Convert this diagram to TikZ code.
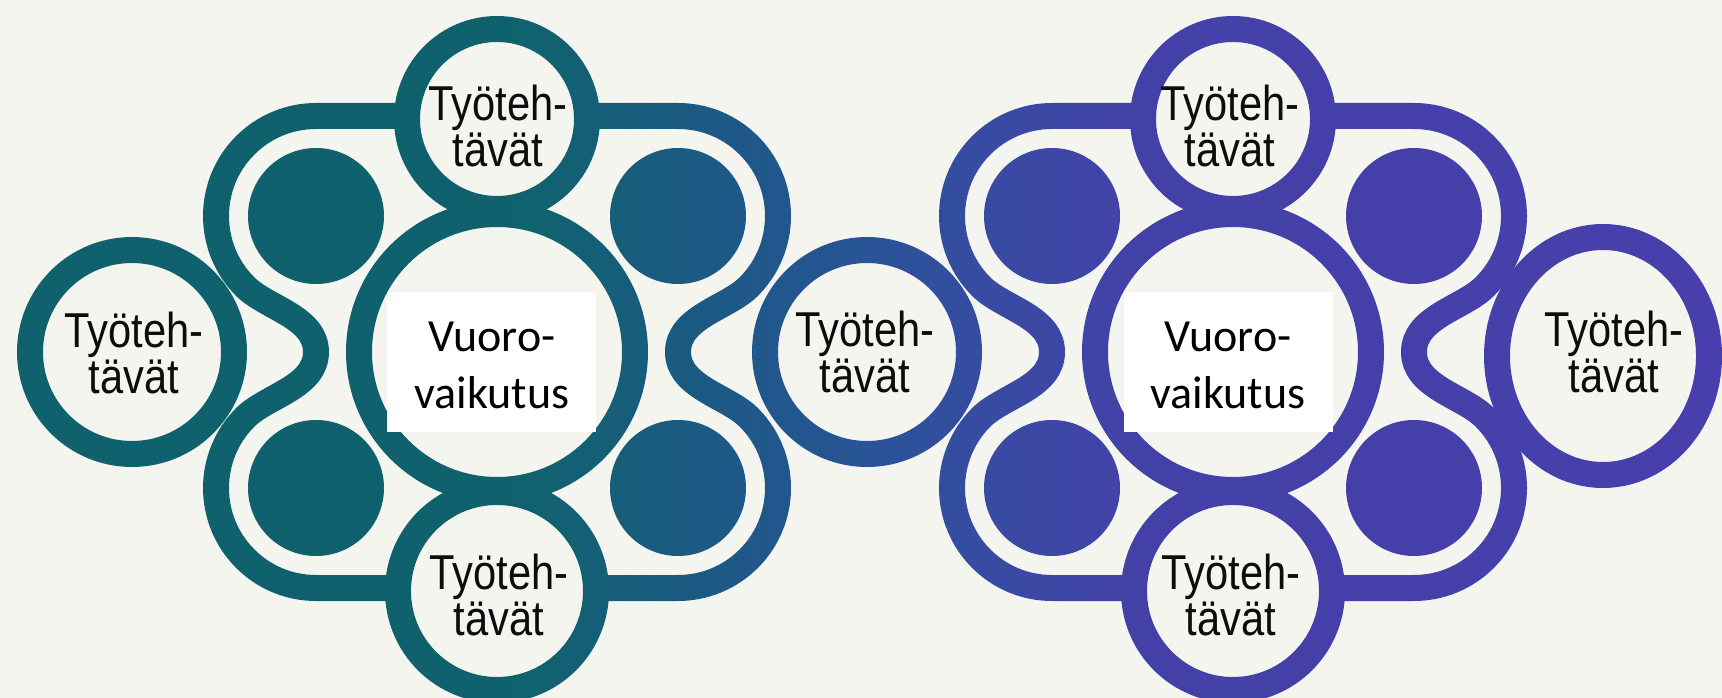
\documentclass[tikz,border=0pt]{standalone}
\usepackage{fontspec}
\newfontfamily\tyofont[FakeStretch=0.85]{Liberation Sans}
\newfontfamily\vuofont{Carlito}
\definecolor{bgc}{RGB}{245,245,240}
\definecolor{cA}{RGB}{16,103,116}
\definecolor{cB}{RGB}{28,94,138}
\definecolor{cC}{RGB}{42,88,160}
\definecolor{cD}{RGB}{60,78,174}
\definecolor{cE}{RGB}{70,68,178}
\definecolor{cF}{RGB}{75,66,183}
\pgfdeclarehorizontalshading{diagrad}{100bp}{color(0bp)=(cA); color(40bp)=(cA); color(45bp)=(cB); color(50bp)=(cC); color(54bp)=(cD); color(58bp)=(cE); color(75bp)=(cF); color(100bp)=(cF)}
\tikzset{
  ringline/.style={line width=26pt, draw=black, fill=white},
  loopline/.style={line width=26pt, draw=black, line join=round},
  blob/.style={fill=black},
  tyo/.style={font=\tyofont\fontsize{49}{46}\selectfont, align=center, inner sep=0pt, text=black!95},
  vuo/.style={font=\vuofont\fontsize{46}{57}\selectfont, align=center, inner sep=0pt, text=black},
  paper/.style={fill=white, draw=none}
}
\begin{document}
\begin{tikzpicture}[x=1pt,y=1pt]
\useasboundingbox (0,0) rectangle (1722,697);
\fill[white] (-10,-10) rectangle (1732,707);
% outer loops of both clusters
\foreach \cx in {497,1233} {
  \begin{scope}[shift={(\cx,345)}]
    \draw[loopline] (-181,236) -- (181,236)
      arc[start angle=90,end angle=-45,radius=100]
      .. controls (230.5,44.08) and (181,35) .. (181,0)
      .. controls (181,-35) and (230.5,-44.08) .. (251.71,-65.29)
      arc[start angle=45,end angle=-90,radius=100]
      -- (-181,-236)
      arc[start angle=-90,end angle=-225,radius=100]
      .. controls (-230.5,-44.08) and (-181,-35) .. (-181,0)
      .. controls (-181,35) and (-230.5,44.08) .. (-251.71,65.29)
      arc[start angle=225,end angle=90,radius=100] -- cycle;
    % filled disks
    \fill[blob] (-181,136) circle[radius=68];
    \fill[blob] (181,136) circle[radius=68];
    \fill[blob] (-181,-136) circle[radius=68];
    \fill[blob] (181,-136) circle[radius=68];
    % centre ring
    \draw[ringline] (0,0) circle[radius=138];
    % top and bottom circles
    \draw[ringline] (0,233) circle[radius=90];
    \draw[ringline] (0,-239) circle[radius=99];
  \end{scope}
}
% side circles
\draw[ringline] (132,345) circle[radius=102];
\draw[ringline] (867,345) circle[radius=102];
\draw[ringline] (1603,341) ellipse[x radius=106, y radius=119];
% colour gradient and paper tone
\shade[blend mode=screen, shading=diagrad] (-10,-10) rectangle (1732,707);
\fill[blend mode=multiply, bgc] (-10,-10) rectangle (1732,707);
% pasted white label boxes
\fill[paper] (387,265) rectangle (596,405);
\fill[paper] (1124,265) rectangle (1333,405);
% texts
\node[vuo] (v1) at (492,332) {Vuoro-\\vaikutus};
\node[vuo] (v2) at (1228,332) {Vuoro-\\vaikutus};
\node[tyo] (tl) at (134,344) {Työteh-\\tävät};
\node[tyo] (t1) at (498,571) {Työteh-\\tävät};
\node[tyo] (b1) at (499,102) {Työteh-\\tävät};
\node[tyo] (tm) at (865,345) {Työteh-\\tävät};
\node[tyo] (t2) at (1230,571) {Työteh-\\tävät};
\node[tyo] (b2) at (1231,102) {Työteh-\\tävät};
\node[tyo] (tr) at (1614,345) {Työteh-\\tävät};
\end{tikzpicture}
\end{document}
